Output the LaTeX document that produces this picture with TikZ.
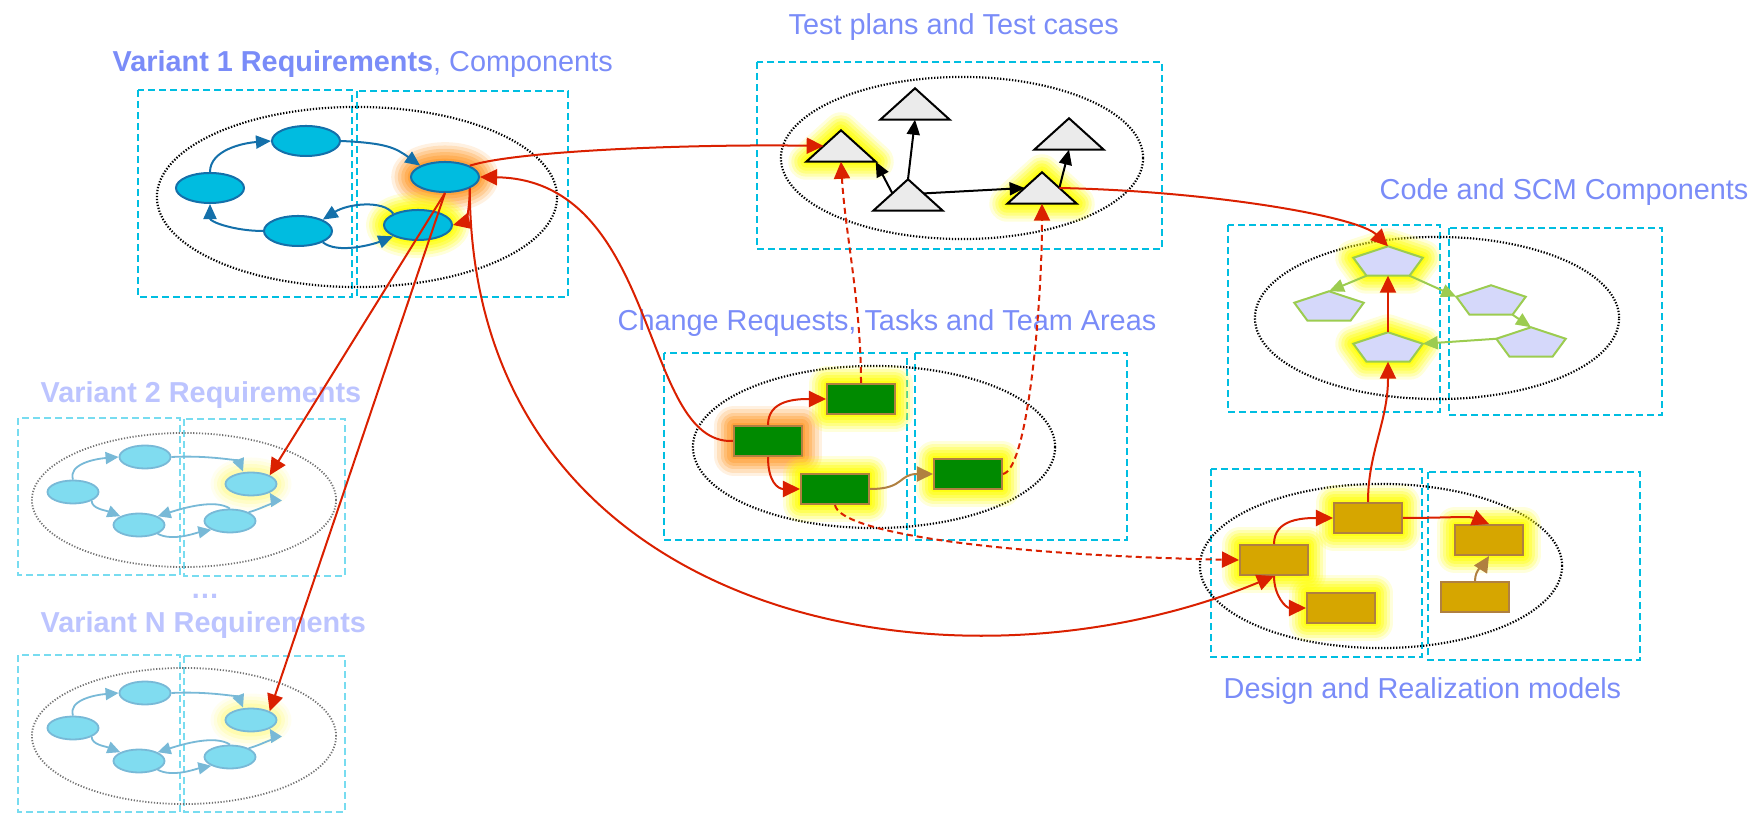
\documentclass[tikz,border=0pt]{standalone}
\usepackage{fontspec}
\setmainfont{Liberation Sans}
\usetikzlibrary{arrows.meta,shapes.geometric,calc}

\definecolor{titleblue}{RGB}{122,140,248}
\definecolor{fadeblue}{RGB}{188,196,255}
\definecolor{boxcyan}{RGB}{0,190,225}
\definecolor{boxcyanl}{RGB}{120,220,240}
\definecolor{reqfill}{RGB}{0,188,224}
\definecolor{reqdraw}{RGB}{20,112,170}
\definecolor{varfill}{RGB}{128,220,240}
\definecolor{vardraw}{RGB}{120,185,215}
\definecolor{redline}{RGB}{218,32,0}
\definecolor{crgreen}{RGB}{0,138,0}
\definecolor{goldfill}{RGB}{214,166,0}
\definecolor{brownb}{RGB}{176,128,64}
\definecolor{pentfill}{RGB}{213,216,250}
\definecolor{pentdraw}{RGB}{156,204,80}
\definecolor{trifill}{RGB}{235,235,235}
\definecolor{glowy}{RGB}{255,255,0}
\definecolor{glowo}{RGB}{255,155,45}
\definecolor{glowl}{RGB}{255,250,120}

\tikzset{
  dbox/.style={draw=boxcyan, line width=0.02cm, dash pattern=on 0.07cm off 0.04cm},
  dboxl/.style={draw=boxcyanl, line width=0.018cm, dash pattern=on 0.07cm off 0.04cm},
  dotell/.style={draw=black, line width=0.022cm, dash pattern=on 0.013cm off 0.017cm},
  dotellg/.style={draw=black!55, line width=0.018cm, dash pattern=on 0.012cm off 0.017cm},
  glowlayers/.style n args={2}{
    preaction={draw=#1, line join=round, line width=#2*0.36cm, opacity=0.14},
    preaction={draw=#1, line join=round, line width=#2*0.30cm, opacity=0.2},
    preaction={draw=#1, line join=round, line width=#2*0.24cm, opacity=0.26},
    preaction={draw=#1, line join=round, line width=#2*0.18cm, opacity=0.32},
    preaction={draw=#1, line join=round, line width=#2*0.12cm, opacity=0.4},
    preaction={draw=#1, line join=round, line width=#2*0.06cm, opacity=0.6}},
  glowY/.style={glowlayers={glowy}{1}},
  glowO/.style={glowlayers={glowo}{1.1}},
  glowL/.style={
    preaction={draw=glowl, line join=round, line width=0.30cm, opacity=0.1},
    preaction={draw=glowl, line join=round, line width=0.24cm, opacity=0.15},
    preaction={draw=glowl, line join=round, line width=0.17cm, opacity=0.22},
    preaction={draw=glowl, line join=round, line width=0.10cm, opacity=0.3}},
  reqn/.style={ellipse, draw=reqdraw, fill=reqfill, line width=0.02cm,
    minimum width=0.68cm, minimum height=0.30cm, inner sep=0pt},
  varn/.style={ellipse, draw=vardraw, fill=varfill, line width=0.018cm,
    minimum width=0.51cm, minimum height=0.23cm, inner sep=0pt},
  crn/.style={rectangle, draw=brownb, fill=crgreen, line width=0.02cm,
    minimum width=0.68cm, minimum height=0.30cm, inner sep=0pt},
  dsn/.style={crn, fill=goldfill},
  shapebox/.style={rectangle, inner sep=0pt, minimum width=0.68cm, minimum height=0.30cm},
  pentbox/.style={shapebox, minimum height=0.28cm},
  tri/.style={draw=black, fill=trifill, line width=0.02cm, line join=miter},
  pent/.style={draw=pentdraw, fill=pentfill, line width=0.02cm},
  ttl/.style={text=titleblue, anchor=base west, inner sep=0pt, font=\fontsize{8.2}{9.8}\selectfont},
  redarrow/.style={draw=redline, line width=0.02cm, -{Triangle[length=0.17cm,width=0.16cm]}},
  reddash/.style={redarrow, dash pattern=on 0.06cm off 0.04cm},
  brownarrow/.style={draw=brownb, line width=0.02cm, -{Triangle[length=0.16cm,width=0.15cm]}},
  bluearrow/.style={draw=reqdraw, line width=0.02cm, -{Triangle[length=0.15cm,width=0.13cm]}},
  blackarrow/.style={draw=black, line width=0.02cm, -{Triangle[length=0.15cm,width=0.13cm]}},
  greenarrow/.style={draw=pentdraw, line width=0.02cm, -{Triangle[length=0.15cm,width=0.13cm]}},
  vararrow/.style={draw=vardraw, line width=0.018cm, -{Triangle[length=0.13cm,width=0.12cm]}}
}

\newcommand\drawtri[2]{\draw[tri,#2] (#1.north) -- (#1.south east) -- (#1.south west) -- cycle;}
\newcommand\drawpent[2]{\draw[pent,#2] (#1.north) -- ($(#1.north east)!0.39!(#1.south east)$) -- ($(#1.south west)!0.81!(#1.south east)$) -- ($(#1.south west)!0.19!(#1.south east)$) -- ($(#1.north west)!0.39!(#1.south west)$) -- cycle;}

\begin{document}
\begin{tikzpicture}[x=0.01cm, y=-0.01cm]
\useasboundingbox (0,0) rectangle (1764,819);

% ---------- frames ----------
\draw[dbox] (138,90) rectangle (352,297);
\draw[dbox] (357,91) rectangle (568,297);
\draw[dotell] (357,197) ellipse [x radius=2cm, y radius=0.9cm];

\draw[dbox] (757,62) rectangle (1162,249);
\draw[dotell] (962,158) ellipse [x radius=1.81cm, y radius=0.81cm];

\draw[dbox] (1228,225) rectangle (1440,412);
\draw[dbox] (1449,228) rectangle (1662,415);
\draw[dotell] (1437,318) ellipse [x radius=1.82cm, y radius=0.81cm];

\draw[dbox] (664,353) rectangle (907,540);
\draw[dbox] (915,353) rectangle (1127,540);
\draw[dotell] (874,447) ellipse [x radius=1.81cm, y radius=0.81cm];

\draw[dbox] (1211,469) rectangle (1422,657);
\draw[dbox] (1428,472) rectangle (1640,660);
\draw[dotell] (1381,566) ellipse [x radius=1.81cm, y radius=0.82cm];

\draw[dboxl] (18,418) rectangle (180,575);
\draw[dboxl] (184,419) rectangle (345,576);
\draw[dotellg] (184,500) ellipse [x radius=1.52cm, y radius=0.67cm];

\draw[dboxl] (18,655) rectangle (180,812);
\draw[dboxl] (184,656) rectangle (345,812);
\draw[dotellg] (184,736) ellipse [x radius=1.52cm, y radius=0.68cm];

% ---------- titles ----------
\node[ttl] (ttlreq) at (112,72) {\textbf{Variant 1 Requirements}, Components};
\node[ttl] (ttltest) at (788,35) {Test plans and Test cases};
\node[ttl] (ttlscm) at (1379,200) {Code and SCM Components};
\node[ttl] (ttlcr) at (617,331) {Change Requests, Tasks and Team Areas};
\node[ttl] (ttldes) at (1223,698) {Design and Realization models};
\node[ttl, text=fadeblue] (ttlv2) at (40,403) {\textbf{Variant 2 Requirements}};
\node[ttl, text=fadeblue] (ttlvn) at (40,633) {\textbf{Variant N Requirements}};
\node[ttl, text=fadeblue, anchor=base] (ttldots) at (205,598) {\textbf{…}};

% ---------- requirement nodes ----------
\node[reqn] (q1) at (210,188) {};
\node[reqn] (q2) at (306,141) {};
\node[reqn, glowO] (q3) at (445,177) {};
\node[reqn] (q4) at (298,231) {};
\node[reqn, glowY] (q5) at (418,225) {};

% ---------- variant nodes ----------
\foreach \k/\dy in {2/0, N/236} {
  \node[varn] (v\k a) at (73,492+\dy) {};
  \node[varn] (v\k b) at (145,457+\dy) {};
  \node[varn] (v\k c) at (139,525+\dy) {};
  \node[varn] (v\k e) at (230,521+\dy) {};
  \node[varn, glowL] (v\k d) at (251,484+\dy) {};
  \draw[vararrow] (v\k a.north) .. controls +(-5,-15) and +(-25,2) .. (v\k b.west);
  \draw[vararrow] (v\k b.east) .. controls +(40,-2) and +(-4,-10) .. ($(v\k d.north)+(-8,0)$);
  \draw[vararrow] (v\k a.south east) .. controls +(0,8) and +(-15,-6) .. (v\k c.north west);
  \draw[vararrow] (v\k e.north) .. controls +(-15,-10) and +(25,-8) .. (v\k c.north east);
  \draw[vararrow] (v\k c.south east) .. controls +(15,8) and +(-15,3) .. (v\k e.south west);
  \draw[vararrow] (v\k e.north east) .. controls +(12,-3) and +(5,8) .. (v\k d.south east);
}

% ---------- test nodes ----------
\node[shapebox] (t1) at (841,146) {};
\node[shapebox] (t2) at (915,104) {};
\node[shapebox] (t3) at (908,195) {};
\node[shapebox] (t4) at (1042,188) {};
\node[shapebox] (t5) at (1069,134) {};
\drawtri{t1}{glowY}
\drawtri{t2}{}
\drawtri{t3}{}
\drawtri{t4}{glowY}
\drawtri{t5}{}

% ---------- SCM nodes ----------
\node[pentbox] (p1) at (1388,261) {};
\node[pentbox] (p2) at (1329,306) {};
\node[pentbox] (p3) at (1491,300) {};
\node[pentbox] (p4) at (1531,342) {};
\node[pentbox] (p5) at (1388,347) {};
\drawpent{p1}{glowY}
\drawpent{p2}{}
\drawpent{p3}{}
\drawpent{p4}{}
\drawpent{p5}{glowY}

% ---------- change request nodes ----------
\node[crn, glowO] (r1) at (768,441) {};
\node[crn, glowY] (r2) at (861,399) {};
\node[crn, glowY] (r3) at (835,489) {};
\node[crn, glowY] (r4) at (968,474) {};

% ---------- design nodes ----------
\node[dsn, glowY] (d1) at (1274,560) {};
\node[dsn, glowY] (d2) at (1368,518) {};
\node[dsn, glowY] (d3) at (1341,608) {};
\node[dsn, glowY] (d4) at (1489,540) {};
\node[dsn] (d5) at (1475,597) {};

% ---------- requirement edges ----------
\draw[bluearrow] (q1.north) .. controls +(0,-22) and +(-28,2) .. (q2.west);
\draw[bluearrow] (q2.east) .. controls +(45,2) and +(-25,-18) .. (q3.north west);
\draw[bluearrow] (q4.west) .. controls +(-28,0) and +(0,18) .. (q1.south);
\draw[bluearrow] (q5.north west) .. controls +(-10,-14) and +(25,-16) .. (q4.north east);
\draw[bluearrow] (q4.south east) .. controls +(15,12) and +(-20,8) .. (q5.south west);

% ---------- test edges ----------
\draw[blackarrow] ($(t3.north)!0.45!(t3.south west)$) -- (t1.south east);
\draw[blackarrow] (t3.north) -- (t2.south);
\draw[blackarrow] ($(t3.north)!0.45!(t3.south east)$) -- ($(t4.north)!0.5!(t4.south west)$);
\draw[blackarrow] ($(t4.north)!0.5!(t4.south east)$) -- (t5.south);

% ---------- SCM edges ----------
\draw[greenarrow] ($(p1.south west)!0.19!(p1.south east)$) -- (p2.north);
\draw[greenarrow] ($(p1.south west)!0.81!(p1.south east)$) -- ($(p3.north west)!0.39!(p3.south west)$);
\draw[greenarrow] ($(p3.south west)!0.81!(p3.south east)$) -- (p4.north);
\draw[greenarrow] ($(p4.north west)!0.39!(p4.south west)$) -- ($(p5.north east)!0.39!(p5.south east)$);

% ---------- CR edges ----------
\draw[redarrow] (r1.north) .. controls +(0,-25) and +(-30,0) .. (r2.west);
\draw[redarrow] (r1.south) .. controls +(0,25) and +(-22,0) .. (r3.west);
\draw[brownarrow] (r3.east) .. controls +(35,0) and +(-35,0) .. (r4.west);

% ---------- design edges ----------
\draw[redarrow] (d1.north) .. controls +(0,-25) and +(-30,0) .. (d2.west);
\draw[redarrow] (d1.south) .. controls +(0,20) and +(-20,0) .. (d3.west);
\draw[redarrow] (d2.east) .. controls +(40,0) and +(-20,-8) .. (d4.north);
\draw[brownarrow] (d5.north) .. controls +(0,-12) and +(-5,8) .. (d4.south);

% ---------- cross edges ----------
\draw[redarrow] (q3.south east) .. controls +(0,22) and +(12,-3) .. (q5.east);
\draw[redarrow] (q3.north east) .. controls (520,150) and (700,144) .. ($(t1.north)!0.5!(t1.south west)$);
\draw[redarrow] (r1.west) .. controls +(-93,4) and +(181,3) .. (q3.east);
\draw[redarrow] (q3.south) -- (v2d.north east);
\draw[redarrow] (q3.south) -- (vNd.north east);
\draw[redarrow] (q3.south east) .. controls +(1,432) and +(-324,134) .. (d1.south);
\draw[reddash] (r2.north) .. controls +(0,-80) and +(4,70) .. (t1.south);
\draw[reddash] (r4.east) .. controls +(25,-5) and +(0,100) .. (t4.south);
\draw[reddash] (r3.south) .. controls +(5,28) and +(-240,-5) .. (d1.west);
\draw[redarrow] ($(t4.north)!0.5!(t4.south east)$) .. controls +(150,3) and +(-30,-30) .. (p1.north);
\draw[redarrow] (d2.north) .. controls +(0,-50) and +(0,60) .. (p5.south);
\draw[redarrow] (p5.north) -- (p1.south);

\end{tikzpicture}
\end{document}
